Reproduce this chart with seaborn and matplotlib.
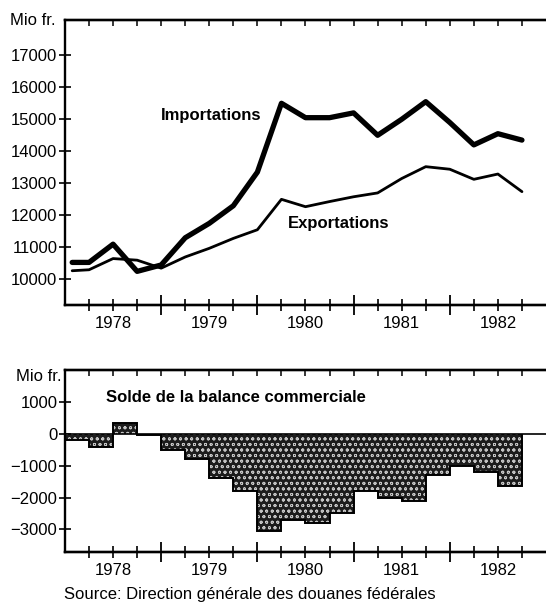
import numpy as np
import pandas as pd
import matplotlib.pyplot as plt
import seaborn as sns

# quarterly figures, Mio fr. (x = quarters counted from start of 1978)
trimestres = [0.3, 1, 2, 3, 4, 5, 6, 7, 8, 9, 10, 11, 12, 13, 14, 15, 16, 17, 18, 19]
importations = [10530, 10530, 11100, 10250, 10450, 11300, 11750, 12300, 13350, 15500,
                15050, 15050, 15200, 14500, 15000, 15550, 14900, 14200, 14550, 14350]
exportations = [10270, 10300, 10650, 10600, 10350, 10700, 10970, 11280, 11550, 12500,
                12270, 12430, 12580, 12700, 13150, 13520, 13440, 13125, 13290, 12740]

trimestres_solde = list(range(1, 20))
solde = [-200, -400, 350, -50, -500, -800, -1400, -1800, -3050, -2700,
         -2800, -2500, -1800, -2000, -2100, -1300, -1000, -1200, -1650]

annees = ['1978', '1979', '1980', '1981', '1982']

sns.set_style('ticks')
plt.rcParams['font.family'] = ['Liberation Sans', 'DejaVu Sans']
plt.rcParams['text.color'] = 'black'
plt.rcParams['hatch.linewidth'] = 0.6

df = pd.DataFrame({'t': trimestres, 'imp': importations, 'exp': exportations})

fig = plt.figure(figsize=(5.46, 6.03), dpi=100)
ax1 = fig.add_axes([0.119, 0.4942, 0.881, 0.4726])
ax2 = fig.add_axes([0.119, 0.085, 0.881, 0.3013])

sns.lineplot(data=df, x='t', y='imp', color='black', lw=3.8, ax=ax1)
sns.lineplot(data=df, x='t', y='exp', color='black', lw=2.0, ax=ax1)
ax1.text(6.07, 15120, 'Importations', ha='center', va='center',
         fontsize=12, fontweight='bold', color='black')
ax1.text(11.39, 11730, 'Exportations', ha='center', va='center',
         fontsize=12, fontweight='bold', color='black')
ax1.set_ylim(9200, 18100)
ax1.set_yticks(range(10000, 18000, 1000))

centres = np.array(trimestres_solde) - 0.5
sns.barplot(x=centres, y=solde, native_scale=True, width=1, color='#1c1c1c',
            saturation=1, hatch='ooo', edgecolor='#c4c4c4', linewidth=0, ax=ax2)
edges = np.arange(len(solde) + 1) + trimestres_solde[0] - 1
ax2.stairs(solde, edges, baseline=0, color='black', lw=1.4)
ax2.axhline(0, color='black', lw=1.2)
ax2.text(1.7, 1150, 'Solde de la balance commerciale', ha='left', va='center',
         fontsize=12, fontweight='bold', color='black')
ax2.set_ylim(-3700, 2000)
ax2.set_yticks(range(-3000, 2000, 1000))

for ax in (ax1, ax2):
    ax.set_xlim(0, 20)
    ax.set_xlabel('')
    ax.set_ylabel('')
    ax.spines['right'].set_visible(False)
    for s in ('left', 'bottom', 'top'):
        ax.spines[s].set_linewidth(1.7)
        ax.spines[s].set_color('black')
    ax.set_xticks([2, 6, 10, 14, 18], labels=annees)
    ax.set_xticks([q for q in range(1, 20) if q % 4 in (1, 3)], minor=True)
    ax.tick_params(axis='x', which='both', direction='inout', length=8, width=1.2,
                   pad=4, labelsize=12, colors='black')
    ax.tick_params(axis='y', direction='inout', length=9, width=1.2, pad=1,
                   labelsize=12, colors='black')
    bas = ax.secondary_xaxis('bottom')
    bas.set_xticks([4, 8, 12, 16], labels=[])
    bas.tick_params(direction='inout', length=15, width=1.3, colors='black')
    bas.spines['bottom'].set_linewidth(1.7)
    haut = ax.secondary_xaxis('top')
    haut.set_xticks(range(1, 20), labels=[])
    haut.tick_params(direction='in', length=4.5, width=1.1, colors='black')
    haut.spines['top'].set_linewidth(1.7)

fig.text(0.102, 0.9657, 'Mio fr.', ha='right', va='center', fontsize=12)
fig.text(0.112, 0.3753, 'Mio fr.', ha='right', va='center', fontsize=12)
fig.text(0.118, 0.0133, 'Source: Direction générale des douanes fédérales',
         ha='left', va='center', fontsize=12)

fig.savefig('out.png', dpi=100, facecolor='white')
